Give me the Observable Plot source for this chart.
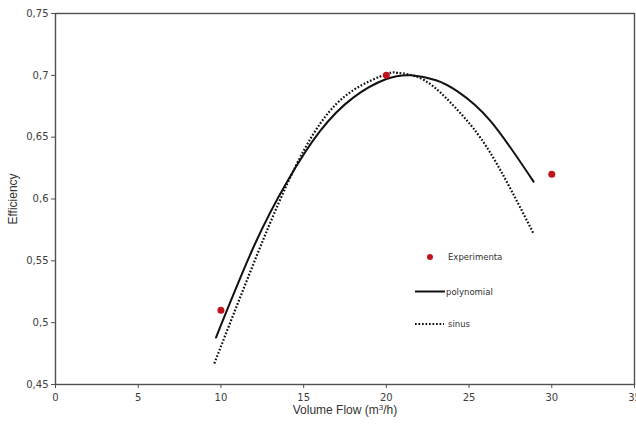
<!DOCTYPE html>
<html>
<head>
<meta charset="utf-8">
<script src="https://cdn.jsdelivr.net/npm/d3@7"></script>
<script src="https://cdn.jsdelivr.net/npm/@observablehq/plot@0.6"></script>
<style>
  html, body { margin: 0; padding: 0; background: #fff; }
  #chart { width: 636px; height: 425px; }
</style>
</head>
<body>
<div id="chart"></div>
<script>
// Experimental measurements
const expFlow = [10, 20, 30];
const expEff = [0.51, 0.70, 0.62];

// Polynomial fit
const polyFlow = [9.7, 12, 14, 16, 18, 20, 21.5, 23, 24.3, 26.3, 28.9];
const polyEff  = [0.488, 0.562, 0.614, 0.655, 0.682, 0.697, 0.700, 0.696, 0.687, 0.663, 0.614];

// Sinus fit
const sinFlow = [9.6, 11.8, 14, 16, 18, 20, 20.7, 22.3, 24.3, 26.3, 28.9];
const sinEff  = [0.467, 0.542, 0.612, 0.661, 0.688, 0.701, 0.702, 0.696, 0.672, 0.637, 0.572];

const xTicks = [0, 5, 10, 15, 20, 25, 30, 35];
const yTicks = [0.45, 0.5, 0.55, 0.6, 0.65, 0.7, 0.75];

const legendLabels = ["Experimenta", "polynomial", "sinus"];

const exp = expFlow.map((x, i) => ({x, y: expEff[i]}));
const poly = polyFlow.map((x, i) => ({x, y: polyEff[i]}));
const sinus = sinFlow.map((x, i) => ({x, y: sinEff[i]}));

const fmt = d => d3.format("~g")(d).replace(".", ",");

const plot = Plot.plot({
  width: 636,
  height: 425,
  marginLeft: 55,
  marginRight: 2,
  marginTop: 13,
  marginBottom: 41,
  style: {fontFamily: "'DejaVu Sans', sans-serif", fontSize: "10px", color: "#404040", background: "#fff"},
  x: {domain: [0, 35], label: null},
  y: {domain: [0.45, 0.75], label: null},
  marks: [
    Plot.frame({stroke: "#505050", strokeWidth: 1.4}),
    Plot.axisX({ticks: xTicks, tickFormat: fmt, tickSize: 4, tickPadding: 5, stroke: "#505050", fill: "#404040", label: null}),
    Plot.axisY({ticks: yTicks, tickFormat: fmt, tickSize: 4, tickPadding: 3, stroke: "#505050", fill: "#404040", label: null}),
    Plot.line(sinus, {x: "x", y: "y", curve: "natural", stroke: "#111", strokeWidth: 2.2, strokeDasharray: "1.7,1.8", strokeLinecap: "butt"}),
    Plot.line(poly, {x: "x", y: "y", curve: "natural", stroke: "#111", strokeWidth: 2}),
    Plot.dot(exp, {x: "x", y: "y", r: 3.5, fill: "#c0141c", stroke: "none"})
  ]
});

document.getElementById("chart").appendChild(plot);

// axis titles and legend overlay
const svg = d3.select(plot);
svg.append("text")
  .attr("x", 345).attr("y", 414)
  .attr("text-anchor", "middle")
  .style("font-family", "'Liberation Sans', Arial, sans-serif")
  .style("font-size", "12px").attr("fill", "#333")
  .html("Volume Flow (m<tspan dy='-4' font-size='8px'>3</tspan><tspan dy='4'>/h)</tspan>");
svg.append("text")
  .attr("transform", "translate(17,199) rotate(-90)")
  .attr("text-anchor", "middle")
  .style("font-family", "'Liberation Sans', Arial, sans-serif")
  .style("font-size", "12px").attr("fill", "#333")
  .text("Efficiency");

const lg = svg.append("g")
  .attr("text-anchor", "start")
  .style("font-family", "'DejaVu Sans', sans-serif")
  .style("font-size", "8.5px").attr("fill", "#333");
lg.append("circle").attr("cx", 430).attr("cy", 257).attr("r", 3).attr("fill", "#c0141c");
lg.append("text").attr("text-anchor", "start").attr("x", 448).attr("y", 260).text(legendLabels[0]);
lg.append("line").attr("x1", 415).attr("x2", 445).attr("y1", 291.5).attr("y2", 291.5).attr("stroke", "#111").attr("stroke-width", 2);
lg.append("text").attr("text-anchor", "start").attr("x", 446).attr("y", 294.5).text(legendLabels[1]);
lg.append("line").attr("x1", 415).attr("x2", 444).attr("y1", 324).attr("y2", 324).attr("stroke", "#111").attr("stroke-width", 2).attr("stroke-dasharray", "1.7,1.8");
lg.append("text").attr("text-anchor", "start").attr("x", 448).attr("y", 327).text(legendLabels[2]);
</script>
</body>
</html>
